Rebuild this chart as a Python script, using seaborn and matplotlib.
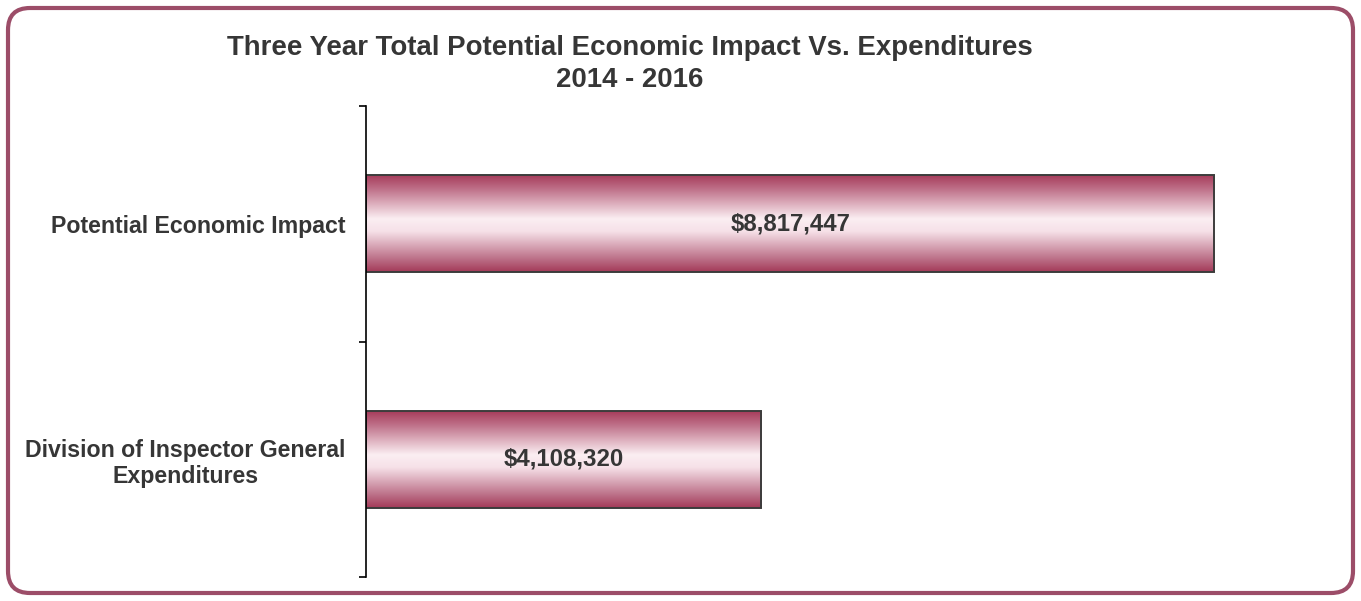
import numpy as np
import pandas as pd
import matplotlib
matplotlib.use("Agg")
import matplotlib.pyplot as plt
import seaborn as sns
from matplotlib.colors import LinearSegmentedColormap
from matplotlib.patches import FancyBboxPatch

# data
categories = ["Potential Economic Impact", "Division of Inspector General\nExpenditures"]
amounts = [8817447, 4108320]
value_labels = ["$8,817,447", "$4,108,320"]

sns.set_style("white")
plt.rcParams["font.family"] = ["Liberation Sans", "DejaVu Sans"]

df = pd.DataFrame({"category": categories, "amount": amounts})

fig = plt.figure(figsize=(13.61, 6.01), dpi=100)

# rounded frame around the whole chart, drawn in pixel units
bg = fig.add_axes([0, 0, 1, 1], zorder=0)
bg.set_xlim(0, 1361)
bg.set_ylim(0, 601)
bg.axis("off")
frame = FancyBboxPatch((8, 8), 1345, 585, boxstyle="round,pad=0,rounding_size=22",
                       fc="white", ec="#9c4d68", lw=3)
bg.add_patch(frame)

ax = fig.add_axes([0.2689, 0.0399, 0.7069, 0.7837], zorder=1)
ax.patch.set_alpha(0)
sns.barplot(data=df, x="amount", y="category", orient="h", width=0.41,
            color="white", edgecolor="#3c3c3c", linewidth=1.4, ax=ax)

# vertical pink gradient on each bar
grad = LinearSegmentedColormap.from_list("bar", [
    (0.0, "#a63c5b"), (0.15, "#c0738b"), (0.45, "#fbeef2"),
    (0.58, "#f6e1e8"), (0.85, "#bf768d"), (1.0, "#a33a58")])
col = np.linspace(0, 1, 256).reshape(-1, 1)
for p in ax.patches:
    x0, y0 = p.get_x(), p.get_y()
    w, h = p.get_width(), p.get_height()
    im = ax.imshow(col, cmap=grad, aspect="auto", origin="upper",
                   extent=[x0, x0 + w, y0 + h, y0], zorder=1.5, interpolation="bilinear")
    im.set_clip_path(p)
    p.set_facecolor("none")
    p.set_zorder(2)

for i, (v, lab) in enumerate(zip(amounts, value_labels)):
    ax.text(v / 2, i, lab, ha="center", va="center", fontsize=17.3,
            fontweight="bold", color="#363636", zorder=3)

ax.set_xlim(0, 1e7)
ax.set_ylim(1.5, -0.5)
ax.set_xlabel("")
ax.set_ylabel("")
ax.set_xticks([])
ax.set_yticks([-0.5, 0.5, 1.5])
ax.set_yticklabels([])
ax.set_yticks([0, 1], minor=True)
ax.set_yticklabels(categories, minor=True, fontsize=16.7, fontweight="bold",
                   color="#363636", multialignment="center")
ax.tick_params(axis="y", which="major", direction="out", length=5, width=1.2,
               color="black", left=True)
ax.tick_params(axis="y", which="minor", length=0, pad=14.5)
for s in ["top", "right", "bottom"]:
    ax.spines[s].set_visible(False)
ax.spines["left"].set_color("black")
ax.spines["left"].set_linewidth(1.2)

fig.text(630 / 1361, 1 - 64 / 601,
         "Three Year Total Potential Economic Impact Vs. Expenditures\n2014 - 2016",
         ha="center", va="center", fontsize=19.9, fontweight="bold",
         color="#363636", linespacing=1.3)

fig.savefig("out.png", dpi=100)
